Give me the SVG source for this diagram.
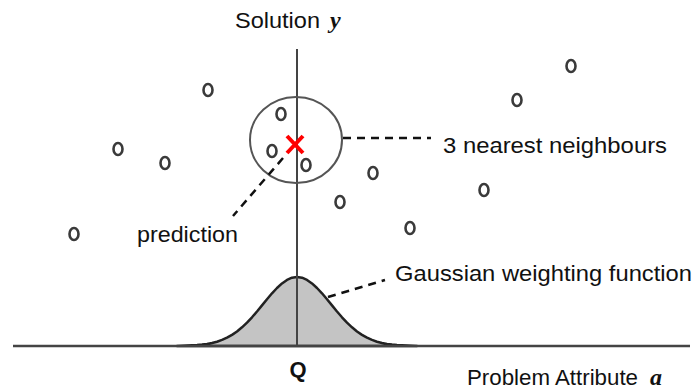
<svg xmlns="http://www.w3.org/2000/svg" width="697" height="389" viewBox="0 0 697 389">
<style>
.lbl{font-family:"Liberation Sans",Arial,sans-serif;font-size:22px;fill:#111}
.var{font-family:"Liberation Serif","Times New Roman",serif;font-size:24px;font-weight:bold;font-style:italic;fill:#111}
.pt{fill:none;stroke:#3a3a3a;stroke-width:2.6}
.dash{fill:none;stroke:#111;stroke-width:2.5;stroke-dasharray:8 6}
.axis{stroke:#444;fill:none}
</style>
<rect width="697" height="389" fill="#fff"/>
<g id="gaussian">
<path d="M177,346 L187,345.6 L197,345.1 L202,344.6 L207,343.9 L212,343 L217,341.7 L222,339.9 L227,337.7 L232,334.9 L237,331.5 L242,327.3 L247,322.6 L252,317.3 L257,311.5 L262,305.4 L267,299.2 L272,293.3 L277,288 L282,283.4 L287,279.9 L292,277.7 L297,277 L302,277.7 L307,279.9 L312,283.4 L317,288 L322,293.3 L327,299.2 L332,305.4 L337,311.5 L342,317.3 L347,322.6 L352,327.3 L357,331.5 L362,334.9 L367,337.7 L372,339.9 L377,341.7 L382,343 L387,343.9 L392,344.6 L397,345.1 L407,345.6 L417,346 Z" fill="#c4c4c4" stroke="#222" stroke-width="2.5" stroke-linejoin="round"/>
</g>
<g id="axes">
<line class="axis" x1="13" y1="346" x2="690" y2="346" stroke-width="2.5"/>
<line class="axis" x1="297" y1="49" x2="297" y2="346" stroke-width="2" stroke="#333"/>
</g>
<g id="neighbourhood">
<ellipse cx="296" cy="140" rx="46" ry="43" fill="none" stroke="#555" stroke-width="2"/>
</g>
<g id="points">
<ellipse class="pt" cx="208" cy="90" rx="4.5" ry="6"/>
<ellipse class="pt" cx="118" cy="149" rx="4.5" ry="6"/>
<ellipse class="pt" cx="165" cy="163" rx="4.5" ry="6"/>
<ellipse class="pt" cx="74" cy="234" rx="4.5" ry="6"/>
<ellipse class="pt" cx="281" cy="114" rx="4.5" ry="6"/>
<ellipse class="pt" cx="272" cy="151" rx="4.5" ry="6"/>
<ellipse class="pt" cx="306" cy="165" rx="4.5" ry="6"/>
<ellipse class="pt" cx="373" cy="173" rx="4.5" ry="6"/>
<ellipse class="pt" cx="340" cy="202" rx="4.5" ry="6"/>
<ellipse class="pt" cx="410" cy="228" rx="4.5" ry="6"/>
<ellipse class="pt" cx="484" cy="190" rx="4.5" ry="6"/>
<ellipse class="pt" cx="517" cy="100" rx="4.5" ry="6"/>
<ellipse class="pt" cx="571" cy="66" rx="4.5" ry="6"/>
</g>
<g id="prediction-mark">
<path d="M287,136 L303,153 M303,136 L287,153" stroke="#ff0000" stroke-width="4" fill="none"/>
</g>
<g id="connectors">
<line class="dash" x1="343" y1="138" x2="431" y2="138"/>
<line class="dash" x1="283" y1="158" x2="233" y2="216"/>
<line class="dash" x1="328" y1="297" x2="385" y2="280"/>
</g>
<g id="labels">
<text class="lbl" x="235" y="28" textLength="85" lengthAdjust="spacingAndGlyphs">Solution</text>
<text class="var" x="330" y="28">y</text>
<text class="lbl" x="443" y="153" textLength="224" lengthAdjust="spacingAndGlyphs">3 nearest neighbours</text>
<text class="lbl" x="137" y="242" textLength="101" lengthAdjust="spacingAndGlyphs">prediction</text>
<text class="lbl" x="395" y="281" textLength="297" lengthAdjust="spacingAndGlyphs">Gaussian weighting function</text>
<text class="lbl" x="298" y="377" text-anchor="middle" font-weight="bold" font-size="18">Q</text>
<text class="lbl" x="467" y="385" textLength="171" lengthAdjust="spacingAndGlyphs">Problem Attribute</text>
<text class="var" x="650" y="385">a</text>
</g>
</svg>
